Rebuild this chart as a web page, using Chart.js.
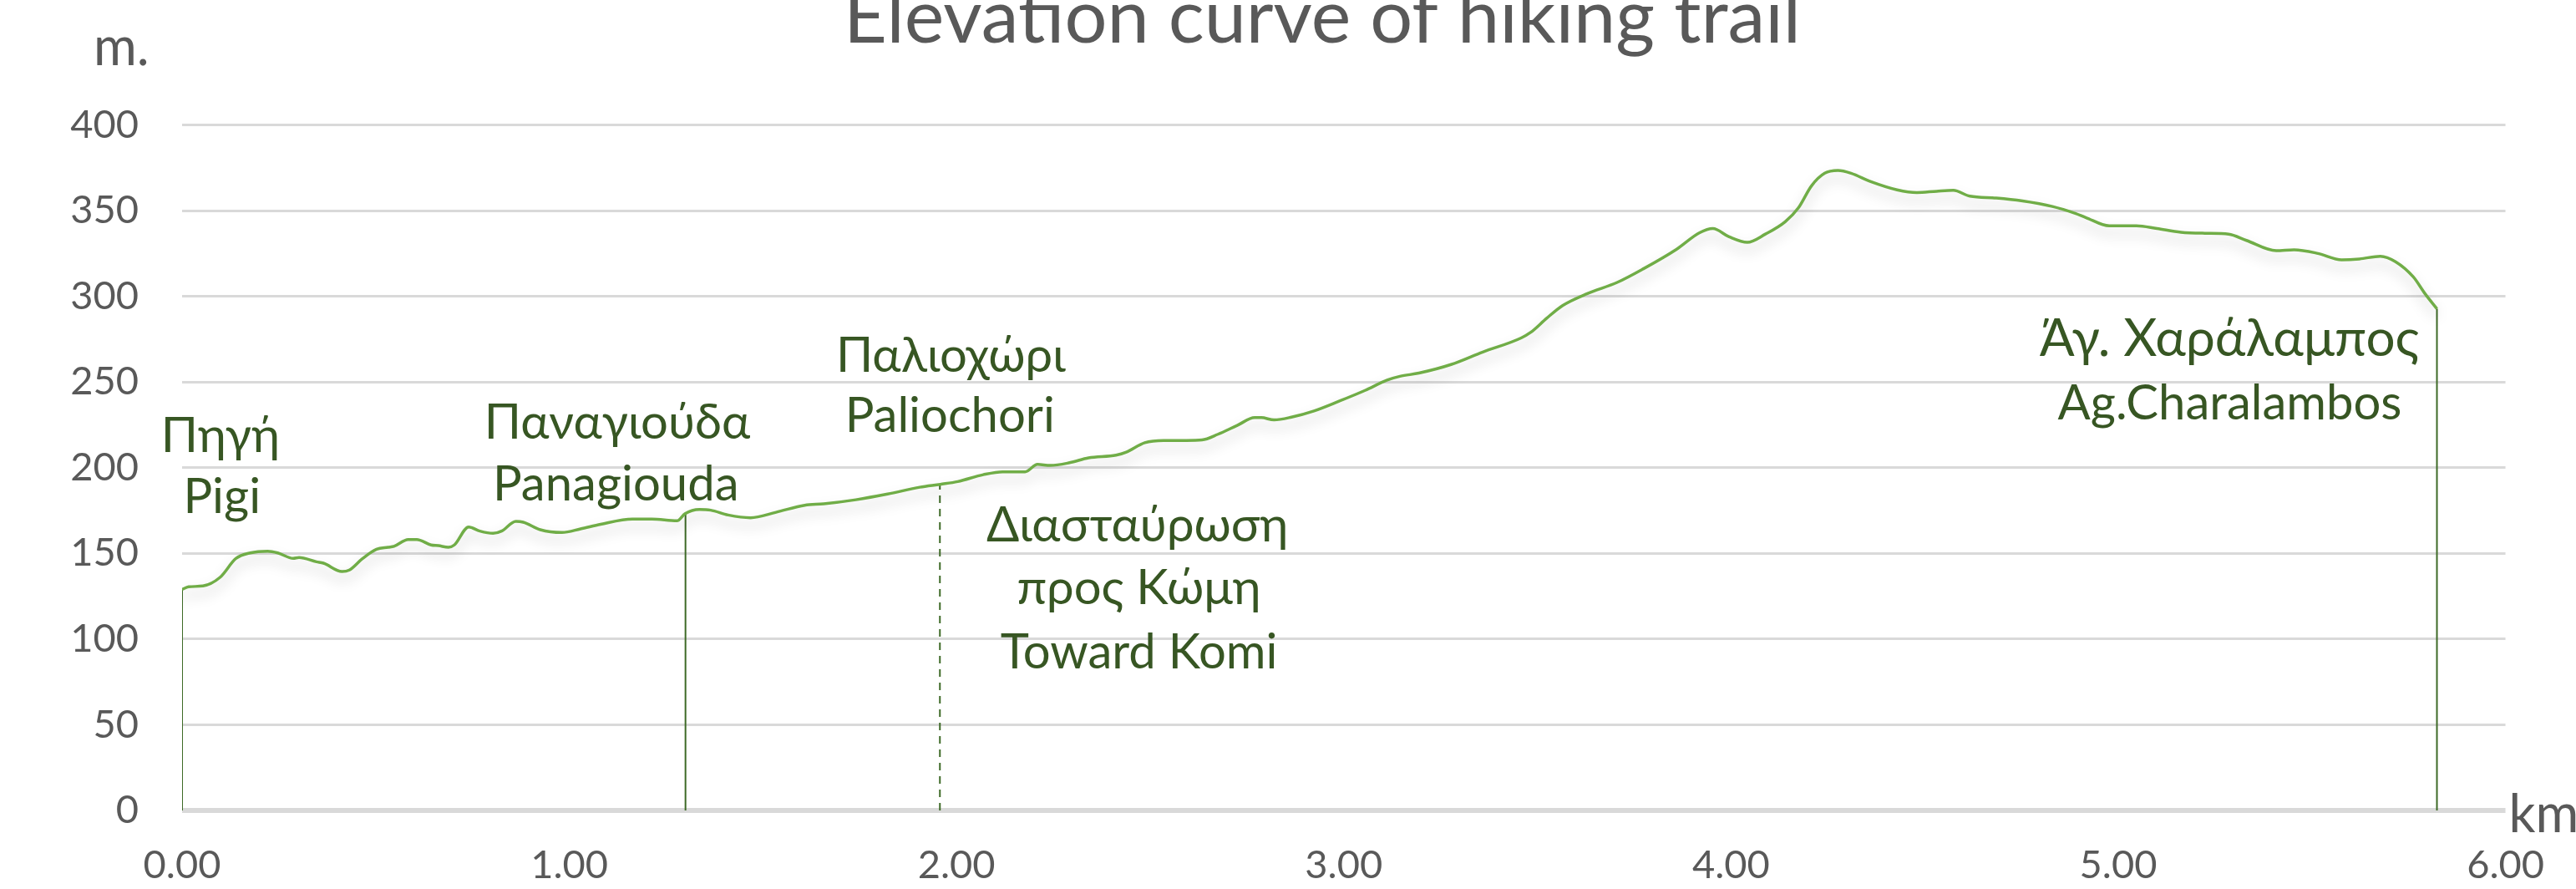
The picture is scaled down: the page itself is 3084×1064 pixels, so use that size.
<!DOCTYPE html>
<html>
<head>
<meta charset="utf-8">
<script src="https://cdn.jsdelivr.net/npm/chart.js@4.4.1/dist/chart.umd.min.js"></script>
<style>
  html, body { margin: 0; padding: 0; background: #fff; }
  #wrap { width: 3084px; height: 1064px; }
</style>
</head>
<body>
<div id="wrap"><canvas id="elevChart" width="3084" height="1064"></canvas></div>
<script>
// elevation profile (km, metres)
const distKm = [
  0.000, 0.017, 0.054, 0.098, 0.139, 0.176, 0.221, 0.247, 0.287, 0.302,
  0.347, 0.365, 0.413, 0.432, 0.465, 0.502, 0.532, 0.547, 0.584, 0.606,
  0.643, 0.662, 0.688, 0.703, 0.740, 0.769, 0.803, 0.825, 0.862, 0.881,
  0.925, 0.981, 1.029, 1.081, 1.163, 1.213, 1.278, 1.299, 1.336, 1.365,
  1.410, 1.468, 1.534, 1.608, 1.657, 1.740, 1.822, 1.905, 1.958, 2.003,
  2.069, 2.119, 2.177, 2.209, 2.242, 2.292, 2.341, 2.412, 2.437, 2.486,
  2.535, 2.593, 2.634, 2.675, 2.725, 2.770, 2.787, 2.820, 2.865, 2.923,
  2.989, 3.055, 3.112, 3.145, 3.194, 3.277, 3.359, 3.458, 3.483, 3.524,
  3.565, 3.629, 3.706, 3.774, 3.859, 3.919, 3.953, 3.995, 4.042, 4.089,
  4.140, 4.174, 4.208, 4.242, 4.276, 4.310, 4.361, 4.429, 4.480, 4.531,
  4.574, 4.617, 4.685, 4.753, 4.830, 4.889, 4.916, 4.977, 5.047, 5.100,
  5.162, 5.224, 5.285, 5.331, 5.408, 5.454, 5.516, 5.577, 5.623, 5.677,
  5.716, 5.762, 5.792, 5.823
];
const elevM = [
  129, 130.5, 131, 136, 147, 150.3, 151.3, 150.3, 147.1, 147.6,
  145.1, 144.3, 139.4, 140.3, 146.8, 152.4, 153.6, 154.1, 158.1, 158.1,
  154.9, 154.5, 153.6, 154.9, 165.4, 163, 161.7, 163, 168.7, 168.2,
  163.8, 162.2, 164.3, 167, 170, 170, 169, 173.2, 175.6, 175.2,
  172.4, 170.8, 174, 178.1, 178.9, 181.3, 184.6, 188.6, 190.3, 191.9,
  195.9, 197.6, 197.6, 201.9, 201.3, 202.9, 205.7, 207.3, 208.9, 214.6,
  215.9, 215.9, 216.2, 219.5, 224.7, 229.2, 229.2, 227.9, 229.5, 233.1,
  238.9, 245.1, 251.1, 253.3, 255.2, 260.2, 267.5, 275.7, 279, 287.2,
  294.6, 301.6, 308.1, 316.1, 327.4, 337.1, 339.5, 334.7, 331.5, 336.3,
  343.5, 351.6, 364.5, 371.8, 373.4, 371.8, 366.9, 362.1, 360.5, 361.3,
  361.8, 358.4, 357.3, 355.6, 352.4, 348.4, 346, 341.1, 341.1, 339.5,
  337.4, 336.8, 336.3, 332.6, 326.6, 327.1, 325, 321.3, 321.8, 323.4,
  320.2, 311.3, 301.6, 292.7
];

// vertical drop lines at the stops
const stopKm = [0, 1.300, 1.957, 5.823];
const stopElev = [129, 173.2, 190.3, 292.7];
const stopDashed = [false, false, true, false];

// place names
const placeText = [
  "Πηγή", "Pigi",
  "Παναγιούδα", "Panagiouda",
  "Παλιοχώρι", "Paliochori",
  "Διασταύρωση", "προς Κώμη", "Toward Komi",
  "Άγ. Χαράλαμπος", "Ag.Charalambos"
];
const placeKm = [0.099, 0.103, 1.124, 1.120, 1.985, 1.983, 2.467, 2.471, 2.471, 5.287, 5.288];
const placeElev = [209, 173.5, 217, 180.8, 256, 221, 156.9, 120.6, 83, 265.3, 228];
const placeSize = [58, 58, 58, 58, 58, 58, 58, 58, 58, 62, 58];

const titleText = "Elevation curve of hiking trail";
const yUnit = "m.";
const xUnit = "km";

const GREY = "#595959";
const DARK_GREEN = "#375623";

Chart.defaults.font.family = "Lato";

const datasets = [
  {
    data: distKm.map((d, i) => ({ x: d, y: elevM[i] })),
    borderColor: "#70ad47",
    borderWidth: 3.5,
    pointRadius: 0,
    cubicInterpolationMode: "monotone",
    fill: false,
  },
];
stopKm.forEach((k, i) => {
  datasets.push({
    data: [{ x: k, y: 0 }, { x: k, y: stopElev[i] }],
    borderColor: "#3e6a27",
    borderWidth: 2,
    borderDash: stopDashed[i] ? [9, 7] : [],
    pointRadius: 0,
    fill: false,
  });
});

const shadowPlugin = {
  id: "lineShadow",
  beforeDatasetDraw(chart, args) {
    if (args.index !== 0) return;
    const c = chart.ctx;
    c.save();
    c.shadowColor = "rgba(0, 0, 0, 0.22)";
    c.shadowBlur = 16;
    c.shadowOffsetY = 9;
  },
  afterDatasetDraw(chart, args) {
    if (args.index === 0) chart.ctx.restore();
  },
};

const textPlugin = {
  id: "trailText",
  afterDatasetsDraw(chart) {
    const { ctx, chartArea, scales } = chart;
    ctx.save();
    ctx.textBaseline = "alphabetic";
    ctx.textAlign = "center";
    ctx.fillStyle = DARK_GREEN;
    placeText.forEach((t, i) => {
      ctx.font = placeSize[i] + "px Lato";
      ctx.fillText(t, scales.x.getPixelForValue(placeKm[i]), scales.y.getPixelForValue(placeElev[i]));
    });
    ctx.fillStyle = GREY;
    ctx.font = "90px Lato";
    ctx.fillText(titleText, chart.width * 0.5133, 51);
    ctx.textAlign = "left";
    ctx.font = "63px Lato";
    ctx.fillText(yUnit, chartArea.left - 106, chartArea.top - 72);
    ctx.fillText(xUnit, chartArea.right + 4, chartArea.bottom + 26);
    ctx.restore();
  },
};

const elevChart = new Chart(document.getElementById("elevChart"), {
  type: "line",
  data: { datasets },
  options: {
    responsive: false,
    animation: false,
    layout: { padding: { top: 149.5, right: 78.5, left: 0, bottom: 0 } },
    plugins: {
      legend: { display: false },
      tooltip: { enabled: false },
    },
    scales: {
      x: {
        type: "linear",
        min: 0,
        max: 6,
        grid: { display: false, drawTicks: false },
        border: { display: false },
        ticks: {
          stepSize: 1,
          maxRotation: 0,
          padding: 38,
          color: GREY,
          font: { size: 47 },
          callback: (v) => v.toFixed(2),
        },
        afterFit: (s) => { s.height = 94; },
      },
      y: {
        min: 0,
        max: 400,
        grid: {
          color: "#d9d9d9",
          lineWidth: (c) => (c.tick && c.tick.value === 0 ? 6 : 3),
          drawTicks: false,
        },
        border: { display: false },
        ticks: {
          stepSize: 50,
          padding: 52,
          color: GREY,
          font: { size: 47 },
        },
        afterFit: (s) => { s.width = 218; },
      },
    },
  },
  plugins: [shadowPlugin, textPlugin],
});
</script>
</body>
</html>
